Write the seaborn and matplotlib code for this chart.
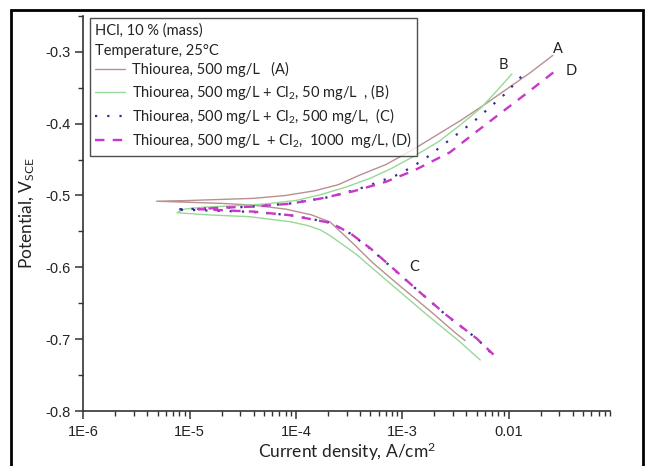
import numpy as np
import pandas as pd
import matplotlib
matplotlib.use("Agg")
import matplotlib.pyplot as plt
import seaborn as sns
from matplotlib.patches import Rectangle
from matplotlib.ticker import FixedLocator, LogLocator, NullFormatter

# Polarisation curves (current A/cm2, potential V vs SCE)
a_cat_i = [4.9e-6, 1e-5, 2e-5, 4e-5, 8e-5, 1.4e-4, 2.1e-4, 2.6e-4, 3.4e-4, 5.3e-4, 9.5e-4, 1.8e-3, 3.2e-3, 3.9e-3]
a_cat_e = [-0.508, -0.5095, -0.511, -0.5135, -0.519, -0.527, -0.537, -0.550, -0.566, -0.594, -0.626, -0.660, -0.692, -0.702]
a_an_i = [4.9e-6, 1e-5, 2e-5, 4e-5, 8e-5, 1.5e-4, 2.5e-4, 4e-4, 7e-4, 1.2e-3, 2e-3, 3.5e-3, 6e-3, 1e-2, 1.6e-2, 2.6e-2]
a_an_e = [-0.508, -0.507, -0.5055, -0.504, -0.500, -0.4935, -0.485, -0.4715, -0.457, -0.438, -0.418, -0.396, -0.373, -0.350, -0.329, -0.305]

b_cat_i = [7.6e-6, 1.5e-5, 3.7e-5, 8.8e-5, 1.3e-4, 1.7e-4, 2.1e-4, 3.7e-4, 8.2e-4, 1.8e-3, 3.5e-3, 5.4e-3]
b_cat_e = [-0.524, -0.527, -0.5296, -0.5365, -0.542, -0.548, -0.556, -0.582, -0.626, -0.669, -0.704, -0.729]
b_an_i = [7.6e-6, 9e-6, 1.3e-5, 2.5e-5, 5e-5, 1e-4, 1.7e-4, 3e-4, 5e-4, 8e-4, 1.3e-3, 2.2e-3, 3.5e-3, 5.5e-3, 8e-3, 1.07e-2]
b_an_e = [-0.524, -0.519, -0.5165, -0.5145, -0.512, -0.507, -0.499, -0.488, -0.476, -0.462, -0.445, -0.425, -0.402, -0.378, -0.352, -0.331]

c_cat_i = [7.3e-6, 1.5e-5, 3.7e-5, 8.8e-5, 2.1e-4, 3.2e-4, 5e-4, 7.7e-4, 1.47e-3, 2.6e-3, 5e-3, 6.7e-3]
c_cat_e = [-0.5194, -0.521, -0.5227, -0.5273, -0.5378, -0.5525, -0.574, -0.5985, -0.635, -0.667, -0.699, -0.718]
c_an_i = [7.3e-6, 1.5e-5, 3.7e-5, 8.8e-5, 2.1e-4, 4.5e-4, 9.5e-4, 1.6e-3, 2.6e-3, 4.7e-3, 9.2e-3, 1.51e-2]
c_an_e = [-0.5194, -0.518, -0.5158, -0.5112, -0.502, -0.488, -0.470, -0.450, -0.426, -0.397, -0.359, -0.325]

d_cat_i = [1.2e-5, 2e-5, 4e-5, 8.8e-5, 2.1e-4, 3.2e-4, 5e-4, 7.7e-4, 1.47e-3, 2.6e-3, 5e-3, 7.2e-3]
d_cat_e = [-0.519, -0.5205, -0.5225, -0.5275, -0.538, -0.552, -0.5735, -0.598, -0.635, -0.6665, -0.699, -0.7215]
d_an_i = [1.2e-5, 2e-5, 4e-5, 8.8e-5, 1.7e-4, 3.5e-4, 7e-4, 1.3e-3, 2.8e-3, 4.7e-3, 8.3e-3, 1.5e-2, 2.95e-2]
d_an_e = [-0.519, -0.517, -0.5155, -0.5115, -0.5043, -0.494, -0.481, -0.465, -0.440, -0.414, -0.386, -0.357, -0.323]

labels = [
    "Thiourea, 500 mg/L   (A)",
    "Thiourea, 500 mg/L + Cl$_2$, 50 mg/L  , (B)",
    "Thiourea, 500 mg/L + Cl$_2$, 500 mg/L,  (C)",
    "Thiourea, 500 mg/L  + Cl$_2$,  1000  mg/L, (D)",
]
legend_title = "HCl, 10 % (mass)\nTemperature, 25°C"

x_ticks = [1e-6, 1e-5, 1e-4, 1e-3, 1e-2]
x_ticklabels = ["1E-6", "1E-5", "1E-4", "1E-3", "0.01"]
y_ticks = [-0.8, -0.7, -0.6, -0.5, -0.4, -0.3]

# curve tags: (text, current, potential)
tags = [("A", 2.9e-2, -0.296), ("B", 9.0e-3, -0.318), ("C", 1.3e-3, -0.599), ("D", 3.9e-2, -0.327)]

sns.set_theme(style="ticks")
plt.rcParams["font.family"] = ["Lato", "DejaVu Sans"]
plt.rcParams["mathtext.default"] = "regular"
plt.rcParams["axes.unicode_minus"] = False

styles = [
    dict(color="#b89090", lw=1.0, ls="-"),
    dict(color="#98d898", lw=1.0, ls="-"),
    dict(color="#30308c", lw=1.6, ls=(0, (1, 4.5))),
    dict(color="#c838c8", lw=1.7, ls=(0, (4, 3.5))),
]


def curve(cat_i, cat_e, an_i, an_e):
    # cathodic branch drawn back to Ecorr, then anodic branch outward
    i = list(cat_i[::-1]) + list(an_i[1:])
    e = list(cat_e[::-1]) + list(an_e[1:])
    return pd.DataFrame({"i": i, "E": e})


curves = [
    curve(a_cat_i, a_cat_e, a_an_i, a_an_e),
    curve(b_cat_i, b_cat_e, b_an_i, b_an_e),
    curve(c_cat_i, c_cat_e, c_an_i, c_an_e),
    curve(d_cat_i, d_cat_e, d_an_i, d_an_e),
]

fig = plt.figure(figsize=(6.45, 4.66), dpi=100)
ax = fig.add_axes([0.129, 0.118, 0.817, 0.848])

for df, lab, st in zip(curves, labels, styles):
    sns.lineplot(data=df, x="i", y="E", sort=False, estimator=None, ax=ax,
                 color=st["color"], linewidth=st["lw"], linestyle=st["ls"], label=lab)

ax.set_xscale("log")
ax.set_xlim(1e-6, 0.09)
ax.set_ylim(-0.8, -0.25)

ax.xaxis.set_major_locator(FixedLocator(x_ticks))
ax.set_xticklabels(x_ticklabels)
ax.xaxis.set_minor_locator(LogLocator(base=10, subs=np.arange(2, 10)))
ax.xaxis.set_minor_formatter(NullFormatter())
ax.set_yticks(y_ticks)
ax.set_yticklabels([f"{v:.1f}" for v in y_ticks])
ax.yaxis.set_minor_locator(FixedLocator(np.arange(-0.75, -0.24, 0.1)))

for lab in ax.get_xticklabels() + ax.get_yticklabels():
    lab.set_family(["Liberation Sans", "DejaVu Sans"])
    lab.set_fontsize(10.5)
    lab.set_color("#222222")

ax.tick_params(which="major", direction="out", length=6, width=1.1, color="#333333", pad=3)
ax.tick_params(axis="x", which="major", pad=4)
ax.tick_params(which="minor", direction="out", length=3.5, width=1.0, color="#333333")
sns.despine(ax=ax)
for side in ["left", "bottom"]:
    ax.spines[side].set_linewidth(1.2)
    ax.spines[side].set_color("#333333")

ax.set_xlabel("Current density, A/cm$^2$", fontsize=12.5, color="#222222", labelpad=1)
ax.set_ylabel("Potential, V$_{SCE}$", fontsize=12.5, color="#222222", labelpad=6)

for txt, xi, ye in tags:
    ax.text(xi, ye, txt, fontsize=10.5, color="#222222", ha="center", va="center")

leg = ax.legend(title=legend_title, loc="upper left", bbox_to_anchor=(0.012, 0.995),
                borderaxespad=0, frameon=True, fancybox=False, fontsize=10.5,
                title_fontsize=10.5, alignment="left", handlelength=2.1,
                handletextpad=0.45, labelspacing=0.3, borderpad=0.35)
leg.get_frame().set_edgecolor("#222222")
leg.get_frame().set_linewidth(1.0)
leg.get_title().set_color("#222222")
leg.get_title().set_linespacing(1.6)
for t in leg.get_texts():
    t.set_color("#222222")

fig.patches.append(Rectangle((0.017, -0.01), 0.98, 0.989, transform=fig.transFigure,
                             fill=False, edgecolor="black", linewidth=2.0))

fig.savefig("out.png", dpi=100)
